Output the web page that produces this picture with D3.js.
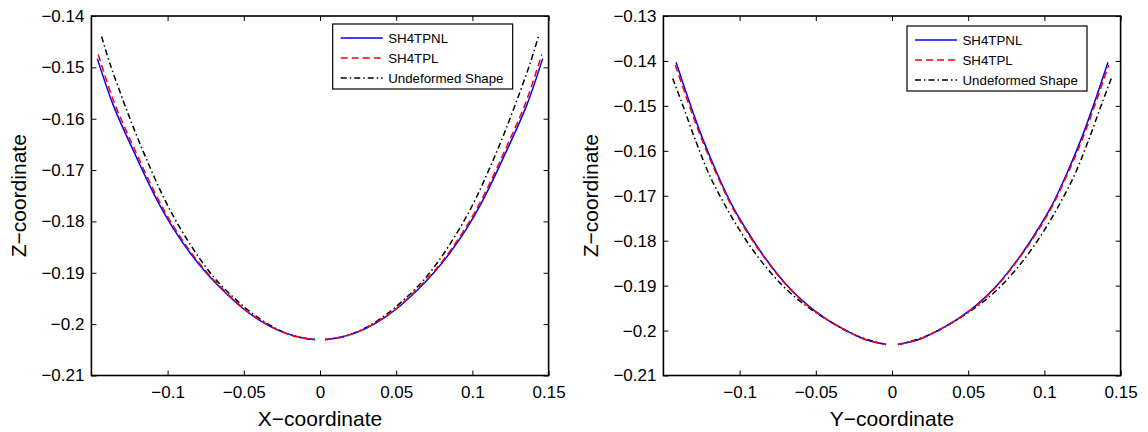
<!DOCTYPE html>
<html>
<head>
<meta charset="utf-8">
<title>Deformed shell profiles</title>
<script src="https://d3js.org/d3.v7.min.js"></script>
<style>
  body { margin: 0; background: #fff; }
  svg { display: block; font-family: "Liberation Sans", Arial, sans-serif; }
  .tick text { font-size: 17px; fill: #000; }
  .tick line { stroke: #000; stroke-width: 1; }
</style>
</head>
<body>
<svg width="1148" height="432"></svg>
<script>
// ---- data (null = gap between the two halves) ----
// X-Z section
let xzNL_x = [-0.1461, -0.1356, -0.1225, -0.1072, -0.0962, -0.0853, -0.0744, -0.0634, -0.0503, -0.0372, -0.0241, -0.0110, -0.0033,
              null, 0.0033, 0.0110, 0.0241, 0.0372, 0.0503, 0.0634, 0.0744, 0.0853, 0.0962, 0.1072, 0.1225, 0.1356, 0.1461];
let xzNL_z = [-0.1483, -0.1574, -0.1662, -0.1757, -0.1814, -0.1861, -0.1901, -0.1935, -0.1970, -0.1997, -0.2016, -0.2027, -0.2030,
              null, -0.2030, -0.2027, -0.2016, -0.1997, -0.1970, -0.1935, -0.1901, -0.1861, -0.1814, -0.1757, -0.1662, -0.1574, -0.1483];
let xzL_x  = [-0.1455, -0.1352, -0.1222, -0.1070, -0.0960, -0.0852, -0.0743, -0.0633, -0.0503, -0.0372, -0.0241, -0.0110, -0.0033,
              null, 0.0033, 0.0110, 0.0241, 0.0372, 0.0503, 0.0633, 0.0743, 0.0852, 0.0960, 0.1070, 0.1222, 0.1352, 0.1455];
let xzL_z  = [-0.1475, -0.1567, -0.1656, -0.1752, -0.1810, -0.1858, -0.1899, -0.1933, -0.1969, -0.1996, -0.2016, -0.2027, -0.2030,
              null, -0.2030, -0.2027, -0.2016, -0.1996, -0.1969, -0.1933, -0.1899, -0.1858, -0.1810, -0.1752, -0.1656, -0.1567, -0.1475];
let xzU_x  = [-0.1433, -0.1378, -0.1291, -0.1203, -0.1115, -0.1028, -0.0941, -0.0853, -0.0766, -0.0678, -0.0560, -0.0440, -0.0300, -0.0160, -0.0033,
              null, 0.0033, 0.0160, 0.0300, 0.0440, 0.0560, 0.0678, 0.0766, 0.0853, 0.0941, 0.1028, 0.1115, 0.1203, 0.1291, 0.1378, 0.1433];
let xzU_z  = [-0.1440, -0.1493, -0.1565, -0.1633, -0.1695, -0.1752, -0.1801, -0.1844, -0.1882, -0.1915, -0.1950, -0.1980, -0.2007, -0.2024, -0.2030,
              null, -0.2030, -0.2024, -0.2007, -0.1980, -0.1950, -0.1915, -0.1882, -0.1844, -0.1801, -0.1752, -0.1695, -0.1633, -0.1565, -0.1493, -0.1440];

// Y-Z section
let yzNL_y = [-0.1417, -0.1334, -0.1247, -0.1148, -0.1050, -0.0940, -0.0831, -0.0700, -0.0569, -0.0438, -0.0306, -0.0197, -0.0110, -0.0039,
              null, 0.0039, 0.0110, 0.0197, 0.0306, 0.0438, 0.0569, 0.0700, 0.0831, 0.0940, 0.1050, 0.1148, 0.1247, 0.1334, 0.1417];
let yzNL_z = [-0.1403, -0.1487, -0.1569, -0.1650, -0.1721, -0.1784, -0.1839, -0.1895, -0.1939, -0.1973, -0.1999, -0.2017, -0.2026, -0.2031,
              null, -0.2031, -0.2026, -0.2017, -0.1999, -0.1973, -0.1939, -0.1895, -0.1839, -0.1784, -0.1721, -0.1650, -0.1569, -0.1487, -0.1403];
let yzL_y  = [-0.1422, -0.1338, -0.1250, -0.1150, -0.1052, -0.0942, -0.0832, -0.0701, -0.0570, -0.0438, -0.0306, -0.0197, -0.0110, -0.0039,
              null, 0.0039, 0.0110, 0.0197, 0.0306, 0.0438, 0.0570, 0.0701, 0.0832, 0.0942, 0.1052, 0.1150, 0.1250, 0.1338, 0.1422];
let yzL_z  = [-0.1409, -0.1492, -0.1573, -0.1653, -0.1723, -0.1786, -0.1840, -0.1896, -0.1940, -0.1973, -0.1999, -0.2017, -0.2026, -0.2031,
              null, -0.2031, -0.2026, -0.2017, -0.1999, -0.1973, -0.1940, -0.1896, -0.1840, -0.1786, -0.1723, -0.1653, -0.1573, -0.1492, -0.1409];
let yzU_y  = [-0.1439, -0.1378, -0.1290, -0.1203, -0.1115, -0.1028, -0.0919, -0.0809, -0.0700, -0.0591, -0.0459, -0.0320, -0.0180, -0.0039,
              null, 0.0039, 0.0180, 0.0320, 0.0459, 0.0591, 0.0700, 0.0809, 0.0919, 0.1028, 0.1115, 0.1203, 0.1290, 0.1378, 0.1439];
let yzU_z  = [-0.1439, -0.1494, -0.1576, -0.1650, -0.1709, -0.1761, -0.1818, -0.1866, -0.1906, -0.1938, -0.1969, -0.1997, -0.2018, -0.2031,
              null, -0.2031, -0.2018, -0.1997, -0.1969, -0.1938, -0.1906, -0.1866, -0.1818, -0.1761, -0.1709, -0.1650, -0.1576, -0.1494, -0.1439];

let seriesNames = ['SH4TPNL', 'SH4TPL', 'Undeformed Shape'];
let xTicks = [-0.1, -0.05, 0, 0.05, 0.1, 0.15];
let zTicksLeft = [-0.21, -0.2, -0.19, -0.18, -0.17, -0.16, -0.15, -0.14];
let zTicksRight = [-0.21, -0.2, -0.19, -0.18, -0.17, -0.16, -0.15, -0.14, -0.13];

let styles = [
    {color: '#0000ff', dash: null},
    {color: '#ff0000', dash: '7,4'},
    {color: '#000000', dash: '6,3,1.5,3'}
];

let svg = d3.select('svg');
let zip = (xs, zs) => xs.map((x, i) => ({x: x, z: zs[i]}));

function drawPanel(opt) {
    let x = d3.scaleLinear().domain([-0.15, 0.15]).range([opt.left, opt.right]);
    let y = d3.scaleLinear().domain(opt.zDomain).range([opt.bottom, opt.top]);
    let g = svg.append('g');

    let fmt = d3.format('');
    g.append('g').attr('transform', `translate(0,${opt.bottom})`)
        .call(d3.axisBottom(x).tickValues(xTicks).tickSizeInner(-5).tickSizeOuter(0).tickPadding(10).tickFormat(fmt));
    g.append('g').attr('transform', `translate(0,${opt.top})`)
        .call(d3.axisTop(x).tickValues(xTicks).tickSizeInner(-5).tickSizeOuter(0).tickFormat(''));
    g.append('g').attr('transform', `translate(${opt.left},0)`)
        .call(d3.axisLeft(y).tickValues(opt.zTicks).tickSizeInner(-5).tickSizeOuter(0).tickPadding(7).tickFormat(fmt));
    g.append('g').attr('transform', `translate(${opt.right},0)`)
        .call(d3.axisRight(y).tickValues(opt.zTicks).tickSizeInner(-5).tickSizeOuter(0).tickFormat(''));
    g.selectAll('.domain').remove();
    g.selectAll('.tick text').attr('font-family', null).attr('font-size', null);

    let line = d3.line()
        .defined(d => d.x !== null)
        .x(d => x(d.x))
        .y(d => y(d.z))
        .curve(d3.curveCatmullRom.alpha(0.5));

    // undeformed first so the deformed curves sit on top
    [2, 0, 1].forEach(i => {
        g.append('path')
            .datum(opt.series[i])
            .attr('d', line)
            .attr('fill', 'none')
            .attr('stroke', styles[i].color)
            .attr('stroke-width', 1.5)
            .attr('stroke-dasharray', styles[i].dash);
    });

    g.append('rect')
        .attr('x', opt.left).attr('y', opt.top)
        .attr('width', opt.right - opt.left).attr('height', opt.bottom - opt.top)
        .attr('fill', 'none').attr('stroke', '#000').attr('stroke-width', 1.6);

    g.append('text')
        .attr('x', (opt.left + opt.right) / 2).attr('y', 426)
        .attr('text-anchor', 'middle').attr('font-size', 21)
        .text(opt.xLabel);
    g.append('text')
        .attr('transform', `translate(${opt.left - 65},${(opt.top + opt.bottom) / 2}) rotate(-90)`)
        .attr('text-anchor', 'middle').attr('font-size', 21)
        .text('Z\u2212coordinate');

    // legend
    let lg = g.append('g').attr('transform', `translate(${opt.legX},${opt.legY})`);
    lg.append('rect').attr('width', 180).attr('height', 65)
        .attr('fill', '#fff').attr('stroke', '#000').attr('stroke-width', 1.2);
    seriesNames.forEach((name, i) => {
        let yy = 14 + i * 20;
        lg.append('line')
            .attr('x1', 8).attr('x2', 50).attr('y1', yy).attr('y2', yy)
            .attr('stroke', styles[i].color).attr('stroke-width', 1.5)
            .attr('stroke-dasharray', styles[i].dash);
        lg.append('text')
            .attr('x', 55.5).attr('y', yy).attr('dy', '0.36em')
            .attr('font-size', 13.3)
            .text(name);
    });
}

drawPanel({
    left: 91.4, right: 548.6, top: 16, bottom: 375.5,
    zDomain: [-0.21, -0.14], zTicks: zTicksLeft,
    series: [zip(xzNL_x, xzNL_z), zip(xzL_x, xzL_z), zip(xzU_x, xzU_z)],
    xLabel: 'X\u2212coordinate',
    legX: 332.7, legY: 24
});

drawPanel({
    left: 663.4, right: 1120.6, top: 16, bottom: 375.5,
    zDomain: [-0.21, -0.13], zTicks: zTicksRight,
    series: [zip(yzNL_y, yzNL_z), zip(yzL_y, yzL_z), zip(yzU_y, yzU_z)],
    xLabel: 'Y\u2212coordinate',
    legX: 907, legY: 26
});
</script>
</body>
</html>
